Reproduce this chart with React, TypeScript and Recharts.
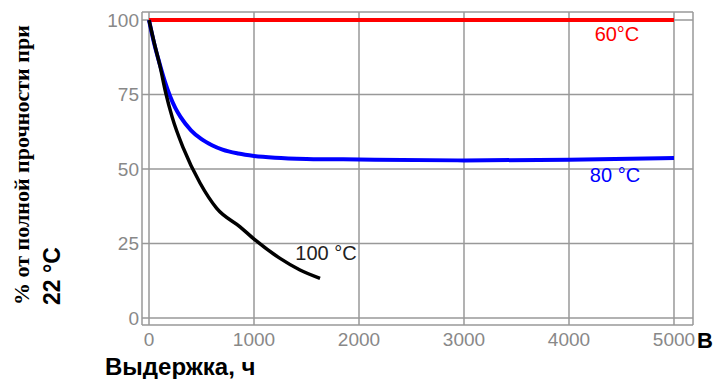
import { CartesianGrid, Line, LineChart, ReferenceDot, XAxis, YAxis } from "recharts";

// hours of exposure vs % of strength at 22 °C
const hours60 = [0, 5000];
const strength60 = [100, 100];

const hours80 = [0, 50, 100, 150, 200, 250, 300, 400, 500, 600, 700, 850, 1000, 1200, 1500, 2000, 3000, 4000, 5000];
const strength80 = [100, 92, 85.5, 79.5, 74.5, 70.5, 67.5, 63, 60, 58, 56.5, 55.2, 54.4, 53.8, 53.4, 53.2, 52.9, 53.1, 53.7];

const hours100 = [0, 50, 105, 160, 220, 327, 486, 645, 867, 1010, 1248, 1438, 1629];
const strength100 = [100, 92.3, 84.5, 75.5, 67.5, 57, 45.3, 36.8, 30.6, 26.2, 20, 16.1, 13.3];

const xTicks = [0, 1000, 2000, 3000, 4000, 5000];
const yTicks = [0, 25, 50, 75, 100];

const toPoints = (xs: number[], ys: number[]) => xs.map((x, i) => ({ x, y: ys[i] }));

const sans = "'Liberation Sans', Arial, sans-serif";
const serif = "'Liberation Serif', 'Times New Roman', serif";

export default function App() {
  return (
    <div style={{ position: "absolute", left: 0, top: 0, width: 716, height: 379, background: "#fff" }}>
      <LineChart width={716} height={379} margin={{ top: 12, right: 23, bottom: 24, left: 0 }}>
        <CartesianGrid stroke="#999" strokeWidth={1.5} />
        <XAxis
          type="number"
          dataKey="x"
          domain={[-66.7, 5181]}
          allowDataOverflow
          ticks={xTicks}
          axisLine={false}
          tickLine={false}
          tickSize={0}
          tickMargin={8}
          height={30}
          tick={{ fill: "#888", fontSize: 19, fontFamily: sans }}
        />
        <YAxis
          type="number"
          dataKey="y"
          domain={[-2.35, 102.7]}
          allowDataOverflow
          ticks={yTicks}
          axisLine={false}
          tickLine={false}
          tickSize={0}
          tickMargin={3}
          width={142}
          tick={{ fill: "#888", fontSize: 19, fontFamily: sans }}
        />
        <Line data={toPoints(hours60, strength60)} dataKey="y" stroke="#ff0000" strokeWidth={4} dot={false} isAnimationActive={false} />
        <Line data={toPoints(hours80, strength80)} dataKey="y" type="monotone" stroke="#0000ff" strokeWidth={4} dot={false} isAnimationActive={false} />
        <Line data={toPoints(hours100, strength100)} dataKey="y" type="monotone" stroke="#000" strokeWidth={3.5} dot={false} isAnimationActive={false} />
        <ReferenceDot x={4457} y={95.5} r={0} fill="none" stroke="none"
          label={{ value: "60°C", position: "center", fill: "#ff0000", fontSize: 20, fontFamily: sans }} />
        <ReferenceDot x={4438} y={48} r={0} fill="none" stroke="none"
          label={{ value: "80 °C", position: "center", fill: "#0000ff", fontSize: 20, fontFamily: sans }} />
        <ReferenceDot x={1686} y={21.8} r={0} fill="none" stroke="none"
          label={{ value: "100 °C", position: "center", fill: "#222", fontSize: 20, fontFamily: sans }} />
      </LineChart>
      <svg width={716} height={379} style={{ position: "absolute", left: 0, top: 0, pointerEvents: "none" }}>
        <text x={29} y={305} transform="rotate(-90 29 305)" fontFamily={serif} fontWeight="bold" fontSize={22} fill="#000">
          % от полной прочности при
        </text>
        <text x={60} y={305} transform="rotate(-90 60 305)" fontFamily={sans} fontWeight="bold" fontSize={23} fill="#000">
          22 °C
        </text>
        <text x={105} y={375} fontFamily={sans} fontWeight="bold" fontSize={24} fill="#000">
          Выдержка, ч
        </text>
        <text x={697} y={348} fontFamily={sans} fontWeight="bold" fontSize={22} fill="#000">
          В
        </text>
      </svg>
    </div>
  );
}
